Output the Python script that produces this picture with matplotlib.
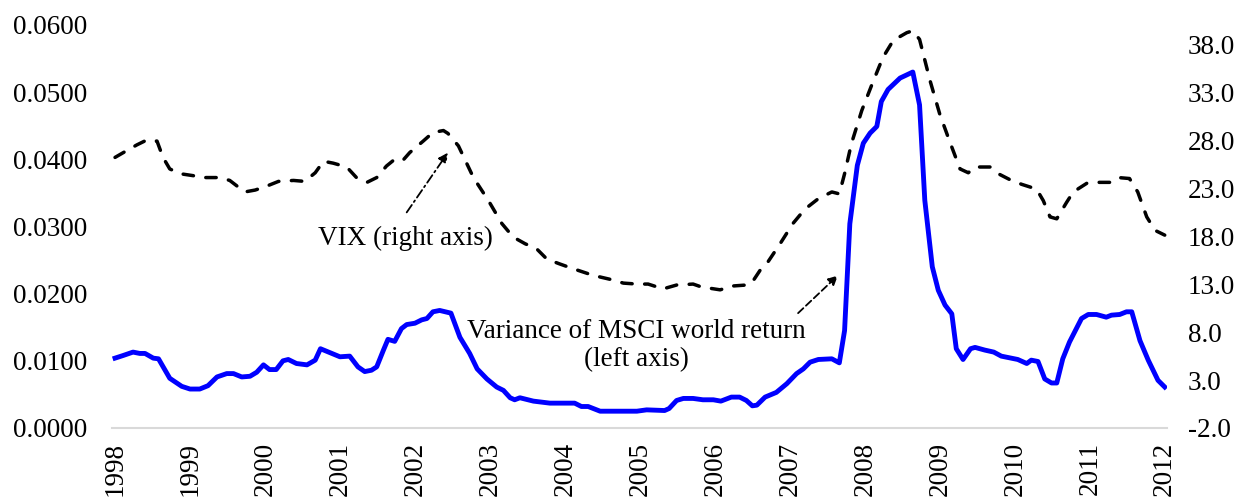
import matplotlib
matplotlib.use("Agg")
import matplotlib.pyplot as plt

plt.rcParams['font.family'] = ['Liberation Serif', 'DejaVu Serif']

# variance of MSCI world return (left axis)
var_t = [1998.0, 1998.11, 1998.24, 1998.33, 1998.40, 1998.51, 1998.58, 1998.73, 1998.89, 1999.0,
         1999.13, 1999.24, 1999.36, 1999.49, 1999.58, 1999.69, 1999.80, 1999.89, 1999.98, 2000.06,
         2000.15, 2000.24, 2000.31, 2000.42, 2000.56, 2000.67, 2000.74, 2000.87, 2001.0, 2001.13,
         2001.24, 2001.33, 2001.42, 2001.49, 2001.58, 2001.64, 2001.73, 2001.82, 2001.89, 2002.0,
         2002.09, 2002.16, 2002.24, 2002.33, 2002.48, 2002.60, 2002.73, 2002.83, 2002.96, 2003.09,
         2003.18, 2003.27, 2003.33, 2003.40, 2003.58, 2003.80, 2004.13, 2004.22, 2004.31, 2004.47,
         2004.96, 2005.09, 2005.33, 2005.39, 2005.49, 2005.58, 2005.71, 2005.84, 2005.98, 2006.08,
         2006.22, 2006.33, 2006.42, 2006.50, 2006.56, 2006.67, 2006.82, 2006.96, 2007.09, 2007.18,
         2007.27, 2007.38, 2007.56, 2007.66, 2007.73, 2007.80, 2007.90, 2007.98, 2008.07, 2008.16,
         2008.22, 2008.31, 2008.47, 2008.64, 2008.73, 2008.80, 2008.90, 2008.98, 2009.07, 2009.16,
         2009.22, 2009.31, 2009.41, 2009.47, 2009.60, 2009.72, 2009.82, 2010.04, 2010.16, 2010.22,
         2010.31, 2010.40, 2010.49, 2010.56, 2010.64, 2010.73, 2010.89, 2010.98, 2011.09, 2011.22,
         2011.29, 2011.40, 2011.49, 2011.56, 2011.67, 2011.78, 2011.91, 2012.0]
var_v = [0.0104, 0.0108, 0.0113, 0.0111, 0.0111, 0.0104, 0.0103, 0.0074, 0.0062, 0.0058,
         0.0058, 0.0063, 0.0076, 0.0081, 0.0081, 0.0076, 0.0077, 0.0083, 0.0094, 0.0087,
         0.0087, 0.0100, 0.0102, 0.0096, 0.0094, 0.0101, 0.0118, 0.0112, 0.0106, 0.0107,
         0.0091, 0.0084, 0.0086, 0.0091, 0.0116, 0.0132, 0.0129, 0.0148, 0.0154, 0.0156,
         0.0161, 0.0163, 0.0173, 0.0175, 0.0171, 0.0135, 0.0111, 0.0088, 0.0073, 0.0061,
         0.0056, 0.0045, 0.0042, 0.0045, 0.0040, 0.0037, 0.0037, 0.0032, 0.0032, 0.0025,
         0.0025, 0.0027, 0.0026, 0.0029, 0.0041, 0.0044, 0.0044, 0.0042, 0.0042, 0.0040,
         0.0046, 0.0046, 0.0041, 0.0033, 0.0034, 0.0046, 0.0053, 0.0066, 0.0081, 0.0088,
         0.0098, 0.0102, 0.0103, 0.0097, 0.0145, 0.0304, 0.0391, 0.0424, 0.0439, 0.0449,
         0.0486, 0.0504, 0.0521, 0.0530, 0.0481, 0.0339, 0.0240, 0.0205, 0.0183, 0.0170,
         0.0118, 0.0102, 0.0118, 0.0120, 0.0116, 0.0113, 0.0107, 0.0102, 0.0096, 0.0101,
         0.0099, 0.0073, 0.0067, 0.0067, 0.0103, 0.0128, 0.0163, 0.0169, 0.0169, 0.0165,
         0.0168, 0.0169, 0.0173, 0.0173, 0.0130, 0.0101, 0.0071, 0.0061]

# VIX (right axis)
vix_t = [1998.0, 1998.11, 1998.29, 1998.42, 1998.56, 1998.64, 1998.73, 1998.87, 1999.04, 1999.18,
         1999.40, 1999.53, 1999.73, 1999.87, 2000.02, 2000.18, 2000.38, 2000.53, 2000.67, 2000.78,
         2000.91, 2001.09, 2001.22, 2001.36, 2001.49, 2001.62, 2001.73, 2001.84, 2001.93, 2002.11,
         2002.24, 2002.38, 2002.44, 2002.58, 2002.78, 2002.98, 2003.16, 2003.31, 2003.47, 2003.62,
         2003.76, 2003.93, 2004.11, 2004.38, 2004.60, 2004.78, 2004.96, 2005.11, 2005.31, 2005.49,
         2005.71, 2005.82, 2006.07, 2006.24, 2006.42, 2006.49, 2006.60, 2006.69, 2006.87, 2007.04,
         2007.20, 2007.38, 2007.56, 2007.66, 2007.73, 2007.82, 2007.96, 2008.09, 2008.24, 2008.38,
         2008.56, 2008.64, 2008.73, 2008.87, 2009.0, 2009.13, 2009.27, 2009.38, 2009.47, 2009.67,
         2009.78, 2009.93, 2010.09, 2010.29, 2010.38, 2010.47, 2010.56, 2010.69, 2010.78, 2010.96,
         2011.09, 2011.27, 2011.38, 2011.53, 2011.64, 2011.76, 2011.87, 2012.0]
vix_v = [26.2, 26.7, 27.5, 28.0, 27.9, 26.2, 25.0, 24.5, 24.3, 24.1,
         24.1, 23.8, 22.6, 22.8, 23.2, 23.7, 23.8, 23.7, 24.6, 25.8,
         25.6, 25.2, 24.1, 23.6, 24.1, 25.3, 26.0, 25.9, 26.7, 27.9,
         28.8, 29.0, 28.7, 27.4, 24.1, 21.7, 19.3, 17.9, 17.2, 16.7,
         15.6, 15.1, 14.6, 13.9, 13.5, 13.1, 13.0, 13.0, 12.5, 12.9,
         13.0, 12.7, 12.4, 12.8, 12.9, 13.1, 14.4, 15.1, 17.2, 19.3,
         20.8, 21.9, 22.6, 22.4, 24.5, 27.6, 31.1, 33.7, 36.6, 38.4,
         39.2, 39.4, 38.5, 34.2, 30.7, 27.9, 25.0, 24.6, 25.2, 25.2,
         24.5, 23.9, 23.4, 22.9, 21.7, 20.0, 19.8, 21.5, 22.6, 23.5,
         23.6, 23.6, 24.1, 24.0, 22.6, 20.0, 18.6, 18.1]

years = list(range(1998, 2013))
left_ticks = [0.0, 0.01, 0.02, 0.03, 0.04, 0.05, 0.06]
right_ticks = [-2, 3, 8, 13, 18, 23, 28, 33, 38]

FS = 19.5

fig = plt.figure(figsize=(12.42, 4.99), dpi=100)
ax = fig.add_axes([0.0902, 0.1423, 0.8494, 0.8076])
ax2 = ax.twinx()

ax.plot(var_t, var_v, color='#0000ff', lw=3.5, solid_joinstyle='round', zorder=3)
ax2.plot(vix_t, vix_v, color='black', lw=2.5, dashes=(3.0, 3.6), dash_capstyle='round', zorder=3)

ax.set_xlim(1997.96, 2012.03)
ax.set_ylim(0, 0.06)
ax2.set_ylim(-2, 40)

ax.set_xticks(years)
ax.set_xticklabels([str(y) for y in years], rotation=90, fontsize=FS)
ax.set_yticks(left_ticks)
ax.set_yticklabels([f'{v:.4f}' for v in left_ticks], fontsize=FS)
ax2.set_yticks(right_ticks)
ax2.set_yticklabels([f'{v:.1f}' for v in right_ticks], fontsize=FS)

ax.tick_params(axis='both', length=0)
ax.tick_params(axis='y', pad=18)
ax.tick_params(axis='x', pad=10)
ax2.tick_params(axis='y', length=0, pad=15)

for a in (ax, ax2):
    for s in a.spines.values():
        s.set_visible(False)
ax.spines['bottom'].set_visible(True)
ax.spines['bottom'].set_color('#d9d9d9')
ax.spines['bottom'].set_linewidth(1.5)

ax.text(2001.87, 0.0282, 'VIX (right axis)', fontsize=FS, ha='center', va='center')
ax.text(2004.95, 0.0123, 'Variance of MSCI world return\n(left axis)', fontsize=FS,
        ha='center', va='center', linespacing=1.15)

ax.annotate('', xy=(2002.44, 0.0410), xytext=(2001.89, 0.0321),
            arrowprops=dict(arrowstyle='-|>', color='black', lw=1.3, linestyle=(0, (5, 2, 1, 2)),
                            mutation_scale=14, shrinkA=0, shrinkB=0))
ax.annotate('', xy=(2007.64, 0.0227), xytext=(2007.11, 0.0171),
            arrowprops=dict(arrowstyle='-|>', color='black', lw=1.3, linestyle=(0, (4, 2)),
                            mutation_scale=14, shrinkA=0, shrinkB=0))

fig.savefig('out.png', dpi=100)
